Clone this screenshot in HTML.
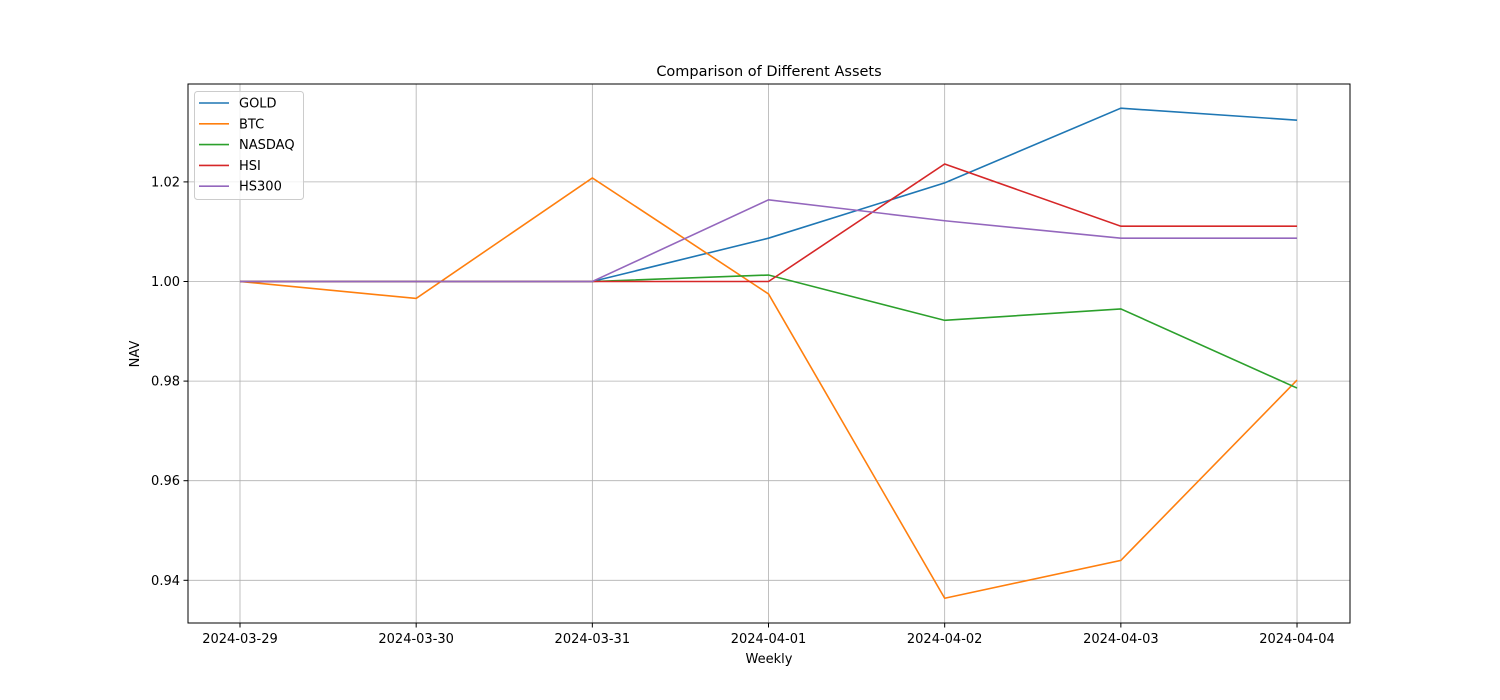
<!DOCTYPE html>
<html><head><meta charset="utf-8"><style>
body{margin:0;background:#fff;}
svg{display:block;font-family:"DejaVu Sans","Liberation Sans",sans-serif;}
</style></head><body>
<svg id="chart" width="1500" height="700">
<rect width="1500" height="700" fill="#fff"/>
<g id="grid"></g>
<g id="lines"></g>
<rect x="188" y="84" width="1162" height="539" fill="none" stroke="#000" stroke-width="1"/>
<g id="ticks"></g>
<text x="769" y="76" text-anchor="middle" font-size="14.5">Comparison of Different Assets</text>
<text x="769" y="663" text-anchor="middle" font-size="13">Weekly</text>
<text transform="translate(139,354) rotate(-90)" text-anchor="middle" font-size="13">NAV</text>
<g id="legend"></g>
</svg>
<script>
const categories=["2024-03-29","2024-03-30","2024-03-31","2024-04-01","2024-04-02","2024-04-03","2024-04-04"];
const seriesNames=["GOLD","BTC","NASDAQ","HSI","HS300"];
const gold=[1,1,1,1.0087,1.0198,1.0348,1.0324];
const btc=[1,0.9966,1.0208,0.9975,0.9364,0.9440,0.9802];
const nasdaq=[1,1,1,1.0013,0.9922,0.9945,0.9786];
const hsi=[1,1,1,1.0,1.0236,1.0111,1.0111];
const hs300=[1,1,1,1.0164,1.0122,1.0087,1.0087];
const yTicks=[0.94,0.96,0.98,1.00,1.02];
const colors=["#1f77b4","#ff7f0e","#2ca02c","#d62728","#9467bd"];
const allSeries=[gold,btc,nasdaq,hsi,hs300];
const NS="http://www.w3.org/2000/svg";
const x0=240,dx=176.17;
function xs(i){return x0+i*dx;}
function ys(v){return 281.5-(v-1)*4980;}
function mk(t,a,p){const e=document.createElementNS(NS,t);for(const k in a)e.setAttribute(k,a[k]);p.appendChild(e);return e;}
const grid=document.getElementById('grid'),ticks=document.getElementById('ticks'),lines=document.getElementById('lines'),leg=document.getElementById('legend');
categories.forEach((c,i)=>{
 const g=mk('line',{x1:xs(i),x2:xs(i),y1:84,y2:623,stroke:'#b0b0b0','stroke-width':0.8},grid);
 
 
 mk('line',{x1:xs(i),x2:xs(i),y1:623,y2:627.5,stroke:'#000'},ticks);
 const t=mk('text',{x:xs(i),y:643,'text-anchor':'middle','font-size':13},ticks);
 
 
 t.textContent=c;
});
yTicks.forEach(v=>{
 const g=mk('line',{x1:188,x2:1350,y1:ys(v),y2:ys(v),stroke:'#b0b0b0','stroke-width':0.8},grid);
 
 
 mk('line',{x1:183.5,x2:188,y1:ys(v),y2:ys(v),stroke:'#000'},ticks);
 const t=mk('text',{x:180,y:ys(v)+4.5,'text-anchor':'end','font-size':13},ticks);
 
 
 t.textContent=v.toFixed(2);
});
allSeries.forEach((s,k)=>{
 const p=mk('polyline',{points:s.map((v,i)=>xs(i)+','+ys(v)).join(' '),fill:'none',stroke:colors[k],'stroke-width':1.6},lines);
 
 
});
mk('rect',{x:194.5,y:91.5,width:109,height:108,rx:3,fill:'#fff','fill-opacity':0.8,stroke:'#ccc'},leg);
seriesNames.forEach((n,k)=>{
 const y=103+k*20.8;
 mk('line',{x1:199,x2:229,y1:y,y2:y,stroke:colors[k],'stroke-width':1.6},leg);
 const t=mk('text',{x:239,y:y+4.5,'font-size':13},leg);
 
 
 t.textContent=n;
});
</script>
</body></html>
